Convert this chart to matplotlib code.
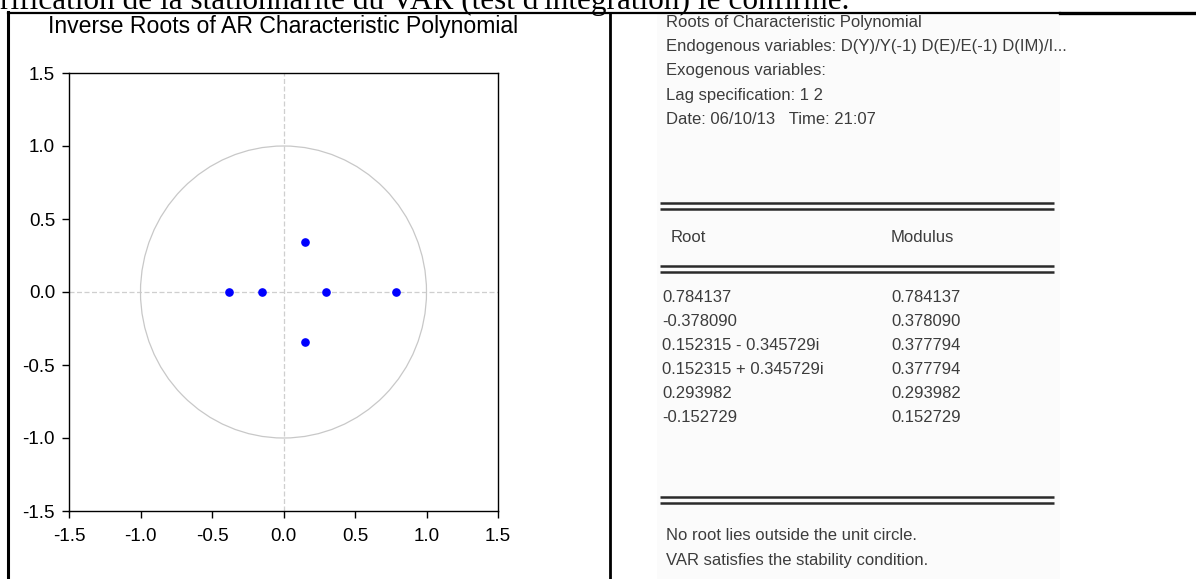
import numpy as np
import matplotlib
matplotlib.use("Agg")
import matplotlib.pyplot as plt
from matplotlib.patches import Ellipse

# ---- data ----
root_re = [0.784137, -0.378090, 0.152315, 0.152315, 0.293982, -0.152729]
root_im = [0.0, 0.0, -0.345729, 0.345729, 0.0, 0.0]
root_labels = ["0.784137", "-0.378090", "0.152315 - 0.345729i",
               "0.152315 + 0.345729i", "0.293982", "-0.152729"]
modulus_labels = ["0.784137", "0.378090", "0.377794", "0.377794",
                  "0.293982", "0.152729"]
tick_vals = [-1.5, -1.0, -0.5, 0.0, 0.5, 1.0, 1.5]
tick_labels = ["-1.5", "-1.0", "-0.5", "0.0", "0.5", "1.0", "1.5"]
header_lines = ["Roots of Characteristic Polynomial",
                "Endogenous variables: D(Y)/Y(-1) D(E)/E(-1) D(IM)/I...",
                "Exogenous variables:",
                "Lag specification: 1 2",
                "Date: 06/10/13   Time: 21:07"]
footer_lines = ["No root lies outside the unit circle.",
                "VAR satisfies the stability condition."]
title = "Inverse Roots of AR Characteristic Polynomial"
top_text = "rification de la stationnarité du VAR (test d'intégration) le confirme."

W, H = 1196, 579
fig = plt.figure(figsize=(W / 100, H / 100), dpi=100)

# overlay in pixel coordinates for page layout
ov = fig.add_axes([0, 0, 1, 1])
ov.set_xlim(0, W)
ov.set_ylim(H, 0)
ov.axis("off")

# page text at top (cut off by the page edge, as in the source)
ov.text(0, 9, top_text, fontsize=22.5, family="Liberation Serif",
        va="baseline", ha="left", color="black")
# table borders
ov.plot([8, 1060], [13, 13], color="black", lw=1.6)
ov.plot([1060, W], [13, 13], color="black", lw=2.4)
ov.plot([8, 8], [12, H], color="black", lw=2.2)
ov.plot([610, 610], [13, H], color="black", lw=2)

# chart title
ov.text(48, 27, title, fontsize=16.6, family="Liberation Sans",
        va="center", ha="left", color="black")

# table (right panel)
narrow = ["Liberation Sans Narrow", "Liberation Sans", "DejaVu Sans"]
tcol = "#3c3c3c"
tsize = 12
x0, x1 = 660, 1054
xm = 891
ov.add_patch(plt.Rectangle((657, 14), 403, 565, facecolor="#fbfbfb",
                           edgecolor="none", zorder=0))
for i, s in enumerate(header_lines):
    ov.text(x0 + 6, 22 + i * 24.5, s, fontsize=tsize, family=narrow,
            color=tcol, va="center", ha="left")

def dline(y):
    ov.plot([x0, x1], [y, y], color="#2a2a2a", lw=1.8, solid_capstyle="butt")
    ov.plot([x0, x1], [y + 6, y + 6], color="#2a2a2a", lw=1.8, solid_capstyle="butt")

dline(203)
ov.text(x0 + 11, 237, "Root", fontsize=tsize, family=narrow, color=tcol,
        va="center", ha="left")
ov.text(xm, 237, "Modulus", fontsize=tsize, family=narrow, color=tcol,
        va="center", ha="left")
dline(266)
for i, (r, m) in enumerate(zip(root_labels, modulus_labels)):
    y = 297 + i * 24.2
    ov.text(x0 + 2, y, r, fontsize=tsize, family=narrow, color=tcol,
            va="center", ha="left")
    ov.text(xm, y, m, fontsize=tsize, family=narrow, color=tcol,
            va="center", ha="left")
dline(497)
for i, s in enumerate(footer_lines):
    ov.text(x0 + 6, 536 + i * 24, s, fontsize=tsize, family=narrow,
            color=tcol, va="center", ha="left")

# ---- chart ----
ax = fig.add_axes([69 / W, 1 - 511 / H, (498 - 69) / W, (511 - 73) / H])
ax.set_xlim(-1.5, 1.5)
ax.set_ylim(-1.5, 1.5)
ax.axhline(0, color="#cfcfcf", lw=0.9, ls=(0, (4, 2)), zorder=1)
ax.axvline(0, color="#cfcfcf", lw=0.9, ls=(0, (4, 2)), zorder=1)
ax.add_patch(Ellipse((0, 0), 2, 2, fill=False, edgecolor="#c8c8c8", lw=0.9, zorder=2))
ax.plot(root_re, root_im, "o", color="#0000ff", markersize=5.2, zorder=3)
ax.set_xticks(tick_vals)
ax.set_xticklabels(tick_labels)
ax.set_yticks(tick_vals)
ax.set_yticklabels(tick_labels)
ax.tick_params(direction="out", length=5, width=1, labelsize=13.5, colors="black")
ax.tick_params(axis="x", pad=7)
ax.tick_params(axis="y", pad=5)
for lab in ax.get_xticklabels() + ax.get_yticklabels():
    lab.set_family("Liberation Sans")
for sp in ax.spines.values():
    sp.set_color("black")
    sp.set_linewidth(1)

fig.savefig("out.png", dpi=100)
